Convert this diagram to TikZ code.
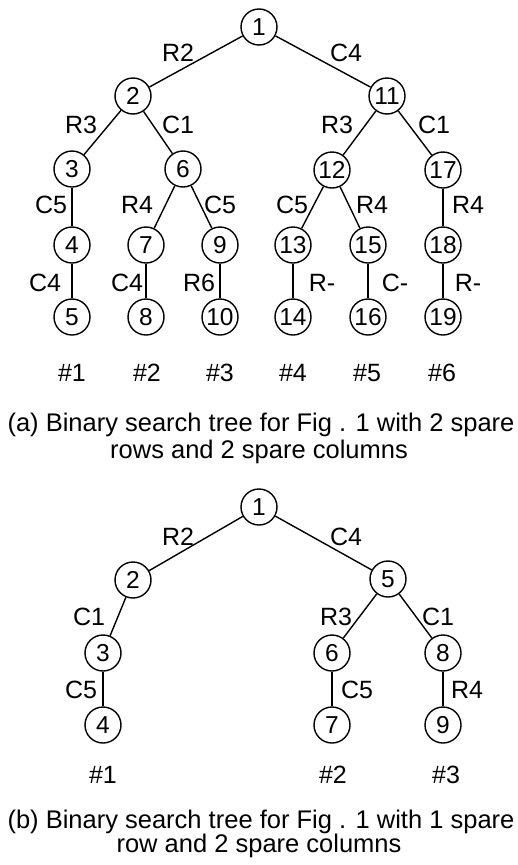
\documentclass[tikz,border=0pt]{standalone}
\usepackage{fontspec}
\setmainfont{Liberation Sans}
\begin{document}
\begin{tikzpicture}[x=1pt,y=-1pt,
  vtx/.style={circle,draw,line width=1.4pt,minimum size=36pt,inner sep=0pt,
              font=\fontsize{24.5}{24.5}\selectfont},
  edge/.style={line width=1.4pt},
  lbl/.style={inner sep=0pt,font=\fontsize{25}{25}\selectfont},
  capline/.style={inner sep=0pt,anchor=base,font=\fontsize{25.5}{26}\selectfont}]
\useasboundingbox (0,0) rectangle (517,865);

% ---------- (a) tree with 2 spare rows and 2 spare columns ----------
\node[vtx] (a1)  at (259,27)  {1};
\node[vtx] (a2)  at (133,96)  {2};
\node[vtx] (a11) at (387,96)  {11};
\node[vtx] (a3)  at (72,169)  {3};
\node[vtx] (a6)  at (183,169) {6};
\node[vtx] (a12) at (332,170) {12};
\node[vtx] (a17) at (443,170) {17};
\node[vtx] (a4)  at (72,245)  {4};
\node[vtx] (a7)  at (146,245) {7};
\node[vtx] (a9)  at (220,245) {9};
\node[vtx] (a13) at (293,245) {13};
\node[vtx] (a15) at (368,245) {15};
\node[vtx] (a18) at (443,245) {18};
\node[vtx] (a5)  at (72,317)  {5};
\node[vtx] (a8)  at (146,317) {8};
\node[vtx] (a10) at (220,317) {10};
\node[vtx] (a14) at (293,317) {14};
\node[vtx] (a16) at (368,317) {16};
\node[vtx] (a19) at (443,317) {19};

\draw[edge] (a1) -- (a2);
\draw[edge] (a1) -- (a11);
\draw[edge] (a2) -- (a3);
\draw[edge] (a2) -- (a6);
\draw[edge] (a11) -- (a12);
\draw[edge] (a11) -- (a17);
\draw[edge] (a3) -- (a4);
\draw[edge] (a4) -- (a5);
\draw[edge] (a6) -- (a7);
\draw[edge] (a6) -- (a9);
\draw[edge] (a7) -- (a8);
\draw[edge] (a9) -- (a10);
\draw[edge] (a12) -- (a13);
\draw[edge] (a12) -- (a15);
\draw[edge] (a13) -- (a14);
\draw[edge] (a15) -- (a16);
\draw[edge] (a17) -- (a18);
\draw[edge] (a18) -- (a19);

\node[lbl] (la12)  at (178,53)  {R2};
\node[lbl] (la111) at (346,53)  {C4};
\node[lbl] (la23)  at (81,125)  {R3};
\node[lbl] (la26)  at (178,125) {C1};
\node[lbl] (la1112) at (337,125) {R3};
\node[lbl] (la1117) at (434,125) {C1};
\node[lbl] (la34)  at (51,205)  {C5};
\node[lbl] (la67)  at (137,205) {R4};
\node[lbl] (la69)  at (220,205) {C5};
\node[lbl] (la1213) at (292,205) {C5};
\node[lbl] (la1215) at (372,205) {R4};
\node[lbl] (la1718) at (468,205) {R4};
\node[lbl] (la45)  at (45,283)  {C4};
\node[lbl] (la78)  at (127,283) {C4};
\node[lbl] (la910) at (199,283) {R6};
\node[lbl] (la1314) at (322,283) {R-};
\node[lbl] (la1516) at (395,283) {C-};
\node[lbl] (la1819) at (468,283) {R-};

\node[lbl] (ha1) at (72,373)  {\#1};
\node[lbl] (ha2) at (147,373) {\#2};
\node[lbl] (ha3) at (220,373) {\#3};
\node[lbl] (ha4) at (293,373) {\#4};
\node[lbl] (ha5) at (367,373) {\#5};
\node[lbl] (ha6) at (442,373) {\#6};

\node[capline] (capa1) at (261,431) {(a) Binary search tree for Fig . 1 with 2 spare};
\node[capline] (capa2) at (259,458) {rows and 2 spare columns};

% ---------- (b) tree with 1 spare row and 2 spare columns ----------
\node[vtx] (b1) at (259,507) {1};
\node[vtx] (b2) at (133,580) {2};
\node[vtx] (b5) at (388,579) {5};
\node[vtx] (b3) at (103,653) {3};
\node[vtx] (b6) at (332,653) {6};
\node[vtx] (b8) at (443,653) {8};
\node[vtx] (b4) at (103,725) {4};
\node[vtx] (b7) at (332,725) {7};
\node[vtx] (b9) at (443,725) {9};

\draw[edge] (b1) -- (b2);
\draw[edge] (b1) -- (b5);
\draw[edge] (b2) -- (b3);
\draw[edge] (b3) -- (b4);
\draw[edge] (b5) -- (b6);
\draw[edge] (b5) -- (b8);
\draw[edge] (b6) -- (b7);
\draw[edge] (b8) -- (b9);

\node[lbl] (lb12) at (178,537) {R2};
\node[lbl] (lb15) at (346,537) {C4};
\node[lbl] (lb23) at (89,617)  {C1};
\node[lbl] (lb56) at (336,617) {R3};
\node[lbl] (lb58) at (438,617) {C1};
\node[lbl] (lb34) at (81,690)  {C5};
\node[lbl] (lb67) at (357,690) {C5};
\node[lbl] (lb89) at (467,690) {R4};

\node[lbl] (hb1) at (103,775) {\#1};
\node[lbl] (hb2) at (333,775) {\#2};
\node[lbl] (hb3) at (446,775) {\#3};

\node[capline] (capb1) at (261,828) {(b) Binary search tree for Fig . 1 with 1 spare};
\node[capline] (capb2) at (259,852) {row and 2 spare columns};
\end{tikzpicture}
\end{document}
